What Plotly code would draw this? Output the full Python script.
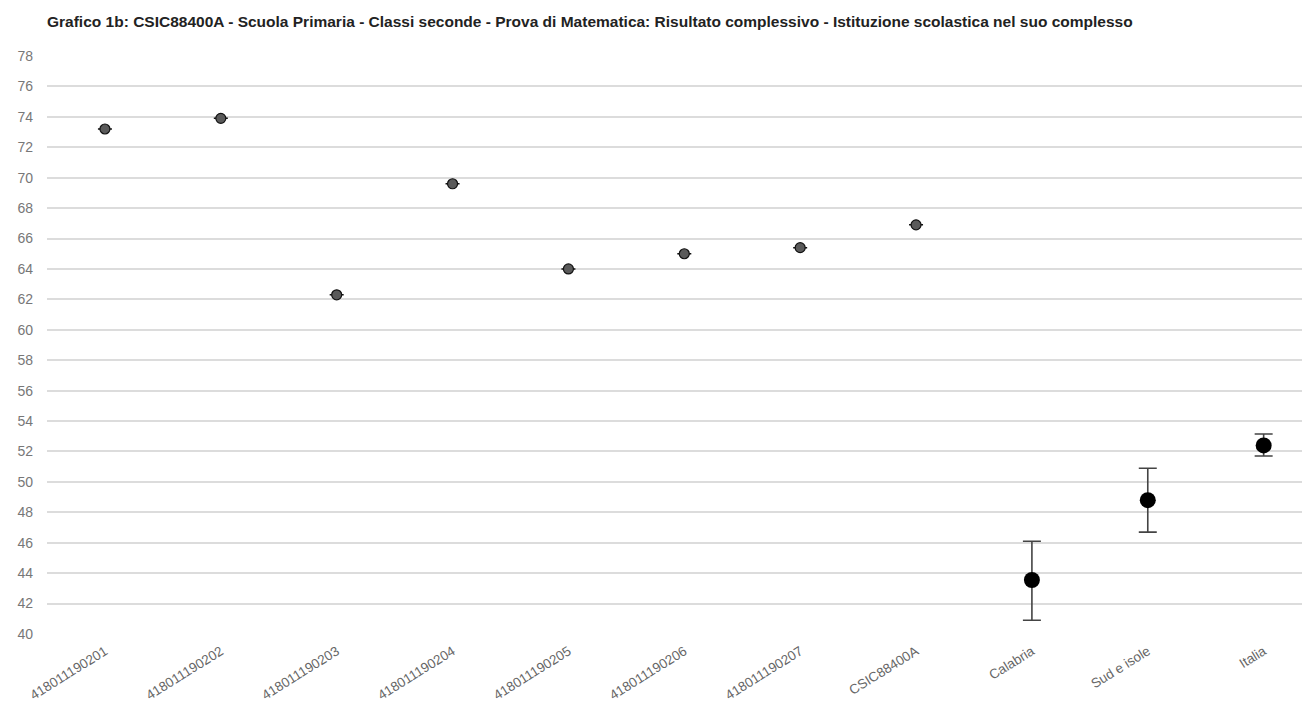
import plotly.graph_objects as go

categories = ["418011190201", "418011190202", "418011190203", "418011190204",
              "418011190205", "418011190206", "418011190207", "CSIC88400A",
              "Calabria", "Sud e isole", "Italia"]
school_cats = categories[:8]
school_vals = [73.2, 73.9, 62.3, 69.6, 64.0, 65.0, 65.4, 66.9]
ref_cats = categories[8:]
ref_vals = [43.55, 48.8, 52.4]
ref_upper = [46.1, 50.9, 53.15]
ref_lower = [40.9, 46.7, 51.7]

err_plus = [u - v for u, v in zip(ref_upper, ref_vals)]
err_minus = [v - l for v, l in zip(ref_vals, ref_lower)]

fig = go.Figure()
fig.add_trace(go.Scatter(
    x=school_cats, y=school_vals, mode="markers",
    marker=dict(size=10, color="#5a5a5a", line=dict(color="#111", width=1.2)),
    error_y=dict(type="data", array=[0]*len(school_vals), color="#111",
                 thickness=1.5, width=7),
    showlegend=False, hoverinfo="x+y"))
fig.add_trace(go.Scatter(
    x=ref_cats, y=ref_vals, mode="markers",
    marker=dict(size=16, color="#000"),
    error_y=dict(type="data", symmetric=False, array=err_plus, arrayminus=err_minus,
                 color="#444", thickness=1.6, width=9),
    showlegend=False, hoverinfo="x+y"))

fig.update_layout(
    width=1310, height=712,
    margin=dict(l=39, r=8, t=48, b=86),
    paper_bgcolor="white", plot_bgcolor="white",
    font=dict(family="Liberation Sans, Arial, sans-serif", color="#666"),
    title=dict(text="<b>Grafico 1b: CSIC88400A - Scuola Primaria - Classi seconde - Prova di Matematica: Risultato complessivo - Istituzione scolastica nel suo complesso</b>",
               x=0, xref="paper", xanchor="left", y=1 - 14/712, yanchor="middle",
               font=dict(size=15.5, color="#222")),
    xaxis=dict(categoryorder="array", categoryarray=categories,
               range=[-0.5, 10.4], tickangle=-32, tickfont=dict(size=13.5, color="#666"),
               showgrid=False, zeroline=False, showline=False, ticks="",
               ticklabelstandoff=6),
    yaxis=dict(range=[40, 78], dtick=2, tick0=40, gridcolor="#dcdcdc", gridwidth=2,
               zeroline=False, showline=False, tickfont=dict(size=14, color="#777"),
               ticklabelstandoff=13),
)

fig.write_html("out.html")
